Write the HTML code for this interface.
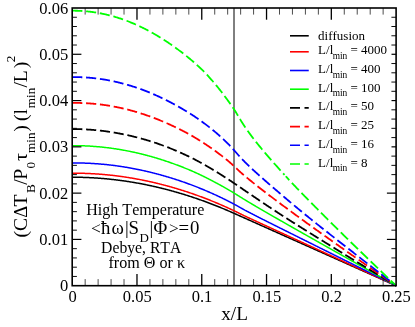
<!DOCTYPE html>
<html><head><meta charset="utf-8"><title>plot</title>
<style>
html,body{margin:0;padding:0;background:#fff;}
svg{display:block;}
text{font-family:"Liberation Serif",serif;fill:#000;font-kerning:none;font-variant-ligatures:none;}
</style></head>
<body>
<svg width="415" height="327" viewBox="0 0 415 327">
<rect width="415" height="327" fill="#fff"/>
<line x1="234.0" x2="234.0" y1="8.0" y2="285.7" stroke="#000" stroke-width="1"/>
<polyline points="72.20,177.22 72.85,177.22 73.50,177.23 74.14,177.23 74.79,177.23 75.44,177.24 76.09,177.24 76.73,177.25 77.38,177.26 78.03,177.27 78.68,177.28 79.33,177.29 79.97,177.31 80.62,177.32 81.27,177.34 81.92,177.35 82.56,177.37 83.21,177.39 83.86,177.41 84.51,177.43 85.16,177.45 85.80,177.48 86.45,177.50 87.10,177.53 87.75,177.56 88.40,177.59 89.04,177.61 89.69,177.65 90.34,177.68 90.99,177.71 91.63,177.74 92.28,177.78 92.93,177.82 93.58,177.85 94.23,177.89 94.87,177.93 95.52,177.97 96.17,178.02 96.82,178.06 97.46,178.10 98.11,178.15 98.76,178.20 99.41,178.24 100.06,178.29 100.70,178.34 101.35,178.39 102.00,178.45 102.65,178.50 103.29,178.56 103.94,178.61 104.59,178.67 105.24,178.73 105.89,178.79 106.53,178.85 107.18,178.91 107.83,178.97 108.48,179.04 109.12,179.10 109.77,179.17 110.42,179.24 111.07,179.31 111.72,179.38 112.36,179.45 113.01,179.52 113.66,179.59 114.31,179.67 114.95,179.74 115.60,179.82 116.25,179.90 116.90,179.98 117.55,180.06 118.19,180.14 118.84,180.22 119.49,180.31 120.14,180.39 120.78,180.48 121.43,180.57 122.08,180.65 122.73,180.74 123.38,180.83 124.02,180.93 124.67,181.02 125.32,181.11 125.97,181.21 126.62,181.31 127.26,181.40 127.91,181.50 128.56,181.60 129.21,181.70 129.85,181.81 130.50,181.91 131.15,182.01 131.80,182.12 132.45,182.23 133.09,182.34 133.74,182.44 134.39,182.56 135.04,182.67 135.68,182.78 136.33,182.89 136.98,183.01 137.63,183.13 138.28,183.24 138.92,183.36 139.57,183.48 140.22,183.60 140.87,183.72 141.51,183.85 142.16,183.97 142.81,184.10 143.46,184.22 144.11,184.35 144.75,184.48 145.40,184.61 146.05,184.74 146.70,184.87 147.34,185.01 147.99,185.14 148.64,185.28 149.29,185.42 149.94,185.55 150.58,185.69 151.23,185.83 151.88,185.98 152.53,186.12 153.18,186.26 153.82,186.41 154.47,186.55 155.12,186.70 155.77,186.85 156.41,187.00 157.06,187.15 157.71,187.30 158.36,187.46 159.01,187.61 159.65,187.77 160.30,187.92 160.95,188.08 161.60,188.24 162.24,188.40 162.89,188.56 163.54,188.73 164.19,188.89 164.84,189.05 165.48,189.22 166.13,189.39 166.78,189.56 167.43,189.73 168.07,189.90 168.72,190.07 169.37,190.24 170.02,190.41 170.67,190.59 171.31,190.77 171.96,190.94 172.61,191.12 173.26,191.30 173.90,191.48 174.55,191.67 175.20,191.85 175.85,192.03 176.50,192.22 177.14,192.41 177.79,192.59 178.44,192.78 179.09,192.97 179.73,193.17 180.38,193.36 181.03,193.55 181.68,193.75 182.33,193.94 182.97,194.14 183.62,194.34 184.27,194.54 184.92,194.74 185.57,194.94 186.21,195.14 186.86,195.35 187.51,195.55 188.16,195.76 188.80,195.97 189.45,196.18 190.10,196.39 190.75,196.60 191.40,196.81 192.04,197.02 192.69,197.24 193.34,197.45 193.99,197.67 194.63,197.89 195.28,198.11 195.93,198.33 196.58,198.55 197.23,198.77 197.87,199.00 198.52,199.22 199.17,199.45 199.82,199.68 200.46,199.90 201.11,200.13 201.76,200.37 202.41,200.60 203.06,200.83 203.70,201.06 204.35,201.30 205.00,201.54 205.65,201.77 206.29,202.01 206.94,202.25 207.59,202.49 208.24,202.74 208.89,202.98 209.53,203.23 210.18,203.47 210.83,203.72 211.48,203.97 212.12,204.22 212.77,204.47 213.42,204.72 214.07,204.97 214.72,205.22 215.36,205.48 216.01,205.74 216.66,205.99 217.31,206.25 217.96,206.51 218.60,206.77 219.25,207.04 219.90,207.30 220.55,207.56 221.19,207.83 221.84,208.09 222.49,208.36 223.14,208.63 223.79,208.90 224.43,209.17 225.08,209.45 225.73,209.72 226.38,209.99 227.02,210.27 227.67,210.55 228.32,210.83 228.97,211.11 229.62,211.39 230.26,211.67 230.91,211.95 231.56,212.23 232.21,212.52 232.85,212.81 233.50,213.09 234.15,213.38 234.80,213.67 235.45,213.96 236.09,214.25 236.74,214.54 237.39,214.83 238.04,215.12 238.68,215.41 239.33,215.70 239.98,215.99 240.63,216.27 241.28,216.56 241.92,216.85 242.57,217.14 243.22,217.43 243.87,217.72 244.51,218.01 245.16,218.30 245.81,218.59 246.46,218.88 247.11,219.17 247.75,219.46 248.40,219.75 249.05,220.04 249.70,220.32 250.35,220.61 250.99,220.90 251.64,221.19 252.29,221.48 252.94,221.77 253.58,222.06 254.23,222.35 254.88,222.64 255.53,222.93 256.18,223.22 256.82,223.51 257.47,223.80 258.12,224.09 258.77,224.37 259.41,224.66 260.06,224.95 260.71,225.24 261.36,225.53 262.01,225.82 262.65,226.11 263.30,226.40 263.95,226.69 264.60,226.98 265.24,227.27 265.89,227.56 266.54,227.85 267.19,228.14 267.84,228.42 268.48,228.71 269.13,229.00 269.78,229.29 270.43,229.58 271.07,229.87 271.72,230.16 272.37,230.45 273.02,230.74 273.67,231.03 274.31,231.32 274.96,231.61 275.61,231.90 276.26,232.18 276.90,232.47 277.55,232.76 278.20,233.05 278.85,233.34 279.50,233.63 280.14,233.92 280.79,234.21 281.44,234.50 282.09,234.79 282.74,235.08 283.38,235.37 284.03,235.66 284.68,235.95 285.33,236.23 285.97,236.52 286.62,236.81 287.27,237.10 287.92,237.39 288.57,237.68 289.21,237.97 289.86,238.26 290.51,238.55 291.16,238.84 291.80,239.13 292.45,239.42 293.10,239.71 293.75,240.00 294.40,240.28 295.04,240.57 295.69,240.86 296.34,241.15 296.99,241.44 297.63,241.73 298.28,242.02 298.93,242.31 299.58,242.60 300.23,242.89 300.87,243.18 301.52,243.47 302.17,243.76 302.82,244.04 303.46,244.33 304.11,244.62 304.76,244.91 305.41,245.20 306.06,245.49 306.70,245.78 307.35,246.07 308.00,246.36 308.65,246.65 309.29,246.94 309.94,247.23 310.59,247.52 311.24,247.81 311.89,248.09 312.53,248.38 313.18,248.67 313.83,248.96 314.48,249.25 315.12,249.54 315.77,249.83 316.42,250.12 317.07,250.41 317.72,250.70 318.36,250.99 319.01,251.28 319.66,251.57 320.31,251.86 320.96,252.14 321.60,252.43 322.25,252.72 322.90,253.01 323.55,253.30 324.19,253.59 324.84,253.88 325.49,254.17 326.14,254.46 326.79,254.75 327.43,255.04 328.08,255.33 328.73,255.62 329.38,255.91 330.02,256.19 330.67,256.48 331.32,256.77 331.97,257.06 332.62,257.35 333.26,257.64 333.91,257.93 334.56,258.22 335.21,258.51 335.85,258.80 336.50,259.09 337.15,259.38 337.80,259.67 338.45,259.95 339.09,260.24 339.74,260.53 340.39,260.82 341.04,261.11 341.68,261.40 342.33,261.69 342.98,261.98 343.63,262.27 344.28,262.56 344.92,262.85 345.57,263.14 346.22,263.43 346.87,263.72 347.51,264.00 348.16,264.29 348.81,264.58 349.46,264.87 350.11,265.16 350.75,265.45 351.40,265.74 352.05,266.03 352.70,266.32 353.35,266.61 353.99,266.90 354.64,267.19 355.29,267.48 355.94,267.77 356.58,268.05 357.23,268.34 357.88,268.63 358.53,268.92 359.18,269.21 359.82,269.50 360.47,269.79 361.12,270.08 361.77,270.37 362.41,270.66 363.06,270.95 363.71,271.24 364.36,271.53 365.01,271.81 365.65,272.10 366.30,272.39 366.95,272.68 367.60,272.97 368.24,273.26 368.89,273.55 369.54,273.84 370.19,274.13 370.84,274.42 371.48,274.71 372.13,275.00 372.78,275.29 373.43,275.58 374.07,275.86 374.72,276.15 375.37,276.44 376.02,276.73 376.67,277.02 377.31,277.31 377.96,277.60 378.61,277.89 379.26,278.18 379.91,278.47 380.55,278.76 381.20,279.05 381.85,279.34 382.50,279.63 383.14,279.91 383.79,280.20 384.44,280.49 385.09,280.78 385.74,281.07 386.38,281.36 387.03,281.65 387.68,281.94 388.33,282.23 388.97,282.52 389.62,282.81 390.27,283.10 390.92,283.39 391.57,283.68 392.21,283.96 392.86,284.25 393.51,284.54 394.16,284.83 394.80,285.12 395.45,285.41 396.10,285.70" fill="none" stroke="#000000" stroke-width="1.5"/>
<polyline points="72.20,173.21 72.85,173.21 73.50,173.21 74.14,173.20 74.79,173.21 75.44,173.21 76.09,173.21 76.73,173.21 77.38,173.22 78.03,173.23 78.68,173.24 79.33,173.25 79.97,173.26 80.62,173.27 81.27,173.28 81.92,173.30 82.56,173.31 83.21,173.33 83.86,173.35 84.51,173.36 85.16,173.39 85.80,173.41 86.45,173.43 87.10,173.45 87.75,173.48 88.40,173.51 89.04,173.53 89.69,173.56 90.34,173.59 90.99,173.63 91.63,173.66 92.28,173.69 92.93,173.73 93.58,173.76 94.23,173.80 94.87,173.84 95.52,173.88 96.17,173.92 96.82,173.97 97.46,174.01 98.11,174.06 98.76,174.10 99.41,174.15 100.06,174.20 100.70,174.25 101.35,174.30 102.00,174.35 102.65,174.41 103.29,174.46 103.94,174.52 104.59,174.58 105.24,174.64 105.89,174.70 106.53,174.76 107.18,174.82 107.83,174.88 108.48,174.95 109.12,175.01 109.77,175.08 110.42,175.15 111.07,175.22 111.72,175.29 112.36,175.36 113.01,175.44 113.66,175.51 114.31,175.59 114.95,175.67 115.60,175.74 116.25,175.82 116.90,175.90 117.55,175.99 118.19,176.07 118.84,176.15 119.49,176.24 120.14,176.33 120.78,176.42 121.43,176.51 122.08,176.60 122.73,176.69 123.38,176.78 124.02,176.88 124.67,176.97 125.32,177.07 125.97,177.17 126.62,177.27 127.26,177.37 127.91,177.47 128.56,177.57 129.21,177.68 129.85,177.78 130.50,177.89 131.15,178.00 131.80,178.10 132.45,178.22 133.09,178.33 133.74,178.44 134.39,178.55 135.04,178.67 135.68,178.79 136.33,178.90 136.98,179.02 137.63,179.14 138.28,179.26 138.92,179.39 139.57,179.51 140.22,179.63 140.87,179.76 141.51,179.89 142.16,180.02 142.81,180.15 143.46,180.28 144.11,180.41 144.75,180.54 145.40,180.68 146.05,180.81 146.70,180.95 147.34,181.09 147.99,181.23 148.64,181.37 149.29,181.51 149.94,181.66 150.58,181.80 151.23,181.95 151.88,182.09 152.53,182.24 153.18,182.39 153.82,182.54 154.47,182.69 155.12,182.85 155.77,183.00 156.41,183.16 157.06,183.31 157.71,183.47 158.36,183.63 159.01,183.79 159.65,183.95 160.30,184.11 160.95,184.28 161.60,184.44 162.24,184.61 162.89,184.78 163.54,184.95 164.19,185.12 164.84,185.29 165.48,185.46 166.13,185.63 166.78,185.81 167.43,185.98 168.07,186.16 168.72,186.34 169.37,186.52 170.02,186.70 170.67,186.88 171.31,187.06 171.96,187.25 172.61,187.43 173.26,187.62 173.90,187.81 174.55,188.00 175.20,188.19 175.85,188.38 176.50,188.57 177.14,188.77 177.79,188.96 178.44,189.16 179.09,189.36 179.73,189.56 180.38,189.76 181.03,189.96 181.68,190.16 182.33,190.36 182.97,190.57 183.62,190.78 184.27,190.98 184.92,191.19 185.57,191.40 186.21,191.61 186.86,191.82 187.51,192.04 188.16,192.25 188.80,192.47 189.45,192.69 190.10,192.90 190.75,193.12 191.40,193.34 192.04,193.57 192.69,193.79 193.34,194.02 193.99,194.24 194.63,194.47 195.28,194.70 195.93,194.93 196.58,195.16 197.23,195.39 197.87,195.63 198.52,195.86 199.17,196.10 199.82,196.34 200.46,196.58 201.11,196.82 201.76,197.06 202.41,197.30 203.06,197.55 203.70,197.79 204.35,198.04 205.00,198.29 205.65,198.54 206.29,198.79 206.94,199.04 207.59,199.29 208.24,199.55 208.89,199.80 209.53,200.06 210.18,200.32 210.83,200.58 211.48,200.84 212.12,201.10 212.77,201.37 213.42,201.63 214.07,201.90 214.72,202.17 215.36,202.44 216.01,202.71 216.66,202.98 217.31,203.25 217.96,203.52 218.60,203.80 219.25,204.07 219.90,204.35 220.55,204.63 221.19,204.91 221.84,205.19 222.49,205.48 223.14,205.76 223.79,206.05 224.43,206.33 225.08,206.62 225.73,206.91 226.38,207.20 227.02,207.49 227.67,207.78 228.32,208.08 228.97,208.37 229.62,208.67 230.26,208.97 230.91,209.27 231.56,209.57 232.21,209.87 232.85,210.17 233.50,210.47 234.15,210.78 234.80,211.09 235.45,211.40 236.09,211.71 236.74,212.03 237.39,212.35 238.04,212.67 238.68,212.99 239.33,213.32 239.98,213.64 240.63,213.96 241.28,214.29 241.92,214.61 242.57,214.93 243.22,215.25 243.87,215.57 244.51,215.88 245.16,216.19 245.81,216.50 246.46,216.80 247.11,217.11 247.75,217.40 248.40,217.70 249.05,218.00 249.70,218.30 250.35,218.60 250.99,218.89 251.64,219.19 252.29,219.49 252.94,219.79 253.58,220.09 254.23,220.39 254.88,220.68 255.53,220.98 256.18,221.28 256.82,221.58 257.47,221.88 258.12,222.18 258.77,222.47 259.41,222.77 260.06,223.07 260.71,223.37 261.36,223.67 262.01,223.96 262.65,224.26 263.30,224.56 263.95,224.86 264.60,225.16 265.24,225.46 265.89,225.75 266.54,226.05 267.19,226.35 267.84,226.65 268.48,226.95 269.13,227.25 269.78,227.54 270.43,227.84 271.07,228.14 271.72,228.44 272.37,228.74 273.02,229.03 273.67,229.33 274.31,229.63 274.96,229.93 275.61,230.22 276.26,230.52 276.90,230.82 277.55,231.12 278.20,231.42 278.85,231.71 279.50,232.01 280.14,232.31 280.79,232.61 281.44,232.90 282.09,233.20 282.74,233.50 283.38,233.80 284.03,234.10 284.68,234.39 285.33,234.69 285.97,234.99 286.62,235.29 287.27,235.58 287.92,235.88 288.57,236.18 289.21,236.48 289.86,236.77 290.51,237.07 291.16,237.37 291.80,237.67 292.45,237.97 293.10,238.26 293.75,238.56 294.40,238.86 295.04,239.16 295.69,239.45 296.34,239.75 296.99,240.05 297.63,240.35 298.28,240.64 298.93,240.94 299.58,241.24 300.23,241.54 300.87,241.84 301.52,242.13 302.17,242.43 302.82,242.73 303.46,243.03 304.11,243.32 304.76,243.62 305.41,243.92 306.06,244.22 306.70,244.52 307.35,244.81 308.00,245.11 308.65,245.41 309.29,245.71 309.94,246.01 310.59,246.30 311.24,246.60 311.89,246.90 312.53,247.20 313.18,247.50 313.83,247.79 314.48,248.09 315.12,248.39 315.77,248.69 316.42,248.99 317.07,249.28 317.72,249.58 318.36,249.88 319.01,250.18 319.66,250.48 320.31,250.77 320.96,251.07 321.60,251.37 322.25,251.67 322.90,251.97 323.55,252.27 324.19,252.56 324.84,252.86 325.49,253.16 326.14,253.46 326.79,253.76 327.43,254.06 328.08,254.35 328.73,254.65 329.38,254.95 330.02,255.25 330.67,255.55 331.32,255.85 331.97,256.15 332.62,256.44 333.26,256.74 333.91,257.04 334.56,257.34 335.21,257.64 335.85,257.94 336.50,258.24 337.15,258.53 337.80,258.83 338.45,259.13 339.09,259.43 339.74,259.73 340.39,260.03 341.04,260.33 341.68,260.63 342.33,260.92 342.98,261.22 343.63,261.52 344.28,261.82 344.92,262.12 345.57,262.42 346.22,262.72 346.87,263.01 347.51,263.31 348.16,263.61 348.81,263.91 349.46,264.21 350.11,264.51 350.75,264.81 351.40,265.11 352.05,265.40 352.70,265.70 353.35,266.00 353.99,266.30 354.64,266.60 355.29,266.90 355.94,267.20 356.58,267.50 357.23,267.79 357.88,268.09 358.53,268.39 359.18,268.69 359.82,268.99 360.47,269.29 361.12,269.59 361.77,269.89 362.41,270.18 363.06,270.48 363.71,270.78 364.36,271.08 365.01,271.38 365.65,271.68 366.30,271.98 366.95,272.28 367.60,272.57 368.24,272.87 368.89,273.17 369.54,273.47 370.19,273.77 370.84,274.07 371.48,274.37 372.13,274.66 372.78,274.96 373.43,275.26 374.07,275.56 374.72,275.86 375.37,276.16 376.02,276.45 376.67,276.75 377.31,277.05 377.96,277.35 378.61,277.65 379.26,277.95 379.91,278.25 380.55,278.54 381.20,278.84 381.85,279.14 382.50,279.44 383.14,279.74 383.79,280.04 384.44,280.33 385.09,280.63 385.74,280.93 386.38,281.23 387.03,281.53 387.68,281.83 388.33,282.12 388.97,282.42 389.62,282.72 390.27,283.02 390.92,283.32 391.57,283.61 392.21,283.91 392.86,284.21 393.51,284.51 394.16,284.81 394.80,285.10 395.45,285.40 396.10,285.70" fill="none" stroke="#ff0000" stroke-width="1.5"/>
<polyline points="72.20,162.96 72.85,162.95 73.50,162.95 74.14,162.95 74.79,162.95 75.44,162.95 76.09,162.96 76.73,162.96 77.38,162.97 78.03,162.97 78.68,162.98 79.33,162.99 79.97,163.00 80.62,163.01 81.27,163.03 81.92,163.04 82.56,163.06 83.21,163.08 83.86,163.10 84.51,163.12 85.16,163.14 85.80,163.16 86.45,163.19 87.10,163.21 87.75,163.24 88.40,163.27 89.04,163.30 89.69,163.33 90.34,163.36 90.99,163.40 91.63,163.43 92.28,163.47 92.93,163.51 93.58,163.55 94.23,163.59 94.87,163.63 95.52,163.68 96.17,163.72 96.82,163.77 97.46,163.81 98.11,163.86 98.76,163.91 99.41,163.97 100.06,164.02 100.70,164.07 101.35,164.13 102.00,164.19 102.65,164.24 103.29,164.30 103.94,164.37 104.59,164.43 105.24,164.49 105.89,164.56 106.53,164.62 107.18,164.69 107.83,164.76 108.48,164.83 109.12,164.90 109.77,164.98 110.42,165.05 111.07,165.13 111.72,165.21 112.36,165.28 113.01,165.36 113.66,165.45 114.31,165.53 114.95,165.61 115.60,165.70 116.25,165.78 116.90,165.87 117.55,165.96 118.19,166.05 118.84,166.15 119.49,166.24 120.14,166.33 120.78,166.43 121.43,166.53 122.08,166.63 122.73,166.73 123.38,166.83 124.02,166.93 124.67,167.04 125.32,167.14 125.97,167.25 126.62,167.36 127.26,167.47 127.91,167.58 128.56,167.69 129.21,167.80 129.85,167.92 130.50,168.03 131.15,168.15 131.80,168.27 132.45,168.39 133.09,168.51 133.74,168.64 134.39,168.76 135.04,168.89 135.68,169.01 136.33,169.14 136.98,169.27 137.63,169.40 138.28,169.53 138.92,169.67 139.57,169.80 140.22,169.94 140.87,170.08 141.51,170.22 142.16,170.36 142.81,170.50 143.46,170.64 144.11,170.79 144.75,170.93 145.40,171.08 146.05,171.23 146.70,171.38 147.34,171.53 147.99,171.68 148.64,171.83 149.29,171.99 149.94,172.14 150.58,172.30 151.23,172.46 151.88,172.62 152.53,172.78 153.18,172.95 153.82,173.11 154.47,173.28 155.12,173.44 155.77,173.61 156.41,173.78 157.06,173.95 157.71,174.12 158.36,174.30 159.01,174.47 159.65,174.65 160.30,174.83 160.95,175.00 161.60,175.18 162.24,175.37 162.89,175.55 163.54,175.73 164.19,175.92 164.84,176.11 165.48,176.29 166.13,176.48 166.78,176.67 167.43,176.87 168.07,177.06 168.72,177.25 169.37,177.45 170.02,177.65 170.67,177.85 171.31,178.05 171.96,178.25 172.61,178.45 173.26,178.65 173.90,178.86 174.55,179.07 175.20,179.27 175.85,179.48 176.50,179.69 177.14,179.91 177.79,180.12 178.44,180.33 179.09,180.55 179.73,180.77 180.38,180.98 181.03,181.20 181.68,181.43 182.33,181.65 182.97,181.87 183.62,182.10 184.27,182.32 184.92,182.55 185.57,182.78 186.21,183.01 186.86,183.24 187.51,183.47 188.16,183.71 188.80,183.94 189.45,184.18 190.10,184.42 190.75,184.66 191.40,184.90 192.04,185.15 192.69,185.39 193.34,185.64 193.99,185.88 194.63,186.13 195.28,186.39 195.93,186.64 196.58,186.89 197.23,187.15 197.87,187.41 198.52,187.67 199.17,187.93 199.82,188.19 200.46,188.45 201.11,188.72 201.76,188.98 202.41,189.25 203.06,189.52 203.70,189.79 204.35,190.06 205.00,190.33 205.65,190.61 206.29,190.89 206.94,191.16 207.59,191.44 208.24,191.72 208.89,192.01 209.53,192.29 210.18,192.57 210.83,192.86 211.48,193.15 212.12,193.43 212.77,193.72 213.42,194.02 214.07,194.31 214.72,194.60 215.36,194.90 216.01,195.19 216.66,195.49 217.31,195.79 217.96,196.10 218.60,196.40 219.25,196.71 219.90,197.01 220.55,197.32 221.19,197.63 221.84,197.95 222.49,198.26 223.14,198.58 223.79,198.89 224.43,199.21 225.08,199.53 225.73,199.86 226.38,200.18 227.02,200.51 227.67,200.84 228.32,201.16 228.97,201.49 229.62,201.83 230.26,202.16 230.91,202.50 231.56,202.83 232.21,203.17 232.85,203.51 233.50,203.85 234.15,204.20 234.80,204.54 235.45,204.89 236.09,205.25 236.74,205.60 237.39,205.96 238.04,206.32 238.68,206.69 239.33,207.05 239.98,207.41 240.63,207.78 241.28,208.14 241.92,208.50 242.57,208.86 243.22,209.22 243.87,209.58 244.51,209.93 245.16,210.29 245.81,210.63 246.46,210.98 247.11,211.32 247.75,211.65 248.40,211.99 249.05,212.33 249.70,212.66 250.35,213.00 250.99,213.33 251.64,213.67 252.29,214.00 252.94,214.34 253.58,214.67 254.23,215.00 254.88,215.34 255.53,215.67 256.18,216.00 256.82,216.33 257.47,216.66 258.12,216.99 258.77,217.32 259.41,217.65 260.06,217.98 260.71,218.31 261.36,218.64 262.01,218.97 262.65,219.30 263.30,219.62 263.95,219.95 264.60,220.27 265.24,220.60 265.89,220.93 266.54,221.25 267.19,221.57 267.84,221.90 268.48,222.22 269.13,222.55 269.78,222.87 270.43,223.20 271.07,223.52 271.72,223.84 272.37,224.17 273.02,224.49 273.67,224.82 274.31,225.14 274.96,225.46 275.61,225.79 276.26,226.11 276.90,226.44 277.55,226.76 278.20,227.08 278.85,227.41 279.50,227.73 280.14,228.05 280.79,228.38 281.44,228.70 282.09,229.02 282.74,229.35 283.38,229.67 284.03,229.99 284.68,230.32 285.33,230.64 285.97,230.96 286.62,231.28 287.27,231.61 287.92,231.93 288.57,232.25 289.21,232.58 289.86,232.90 290.51,233.22 291.16,233.55 291.80,233.87 292.45,234.19 293.10,234.51 293.75,234.84 294.40,235.16 295.04,235.48 295.69,235.80 296.34,236.13 296.99,236.45 297.63,236.77 298.28,237.09 298.93,237.42 299.58,237.74 300.23,238.06 300.87,238.38 301.52,238.71 302.17,239.03 302.82,239.35 303.46,239.67 304.11,240.00 304.76,240.32 305.41,240.64 306.06,240.96 306.70,241.29 307.35,241.61 308.00,241.93 308.65,242.25 309.29,242.58 309.94,242.90 310.59,243.22 311.24,243.54 311.89,243.87 312.53,244.19 313.18,244.51 313.83,244.83 314.48,245.15 315.12,245.48 315.77,245.80 316.42,246.12 317.07,246.44 317.72,246.77 318.36,247.09 319.01,247.41 319.66,247.73 320.31,248.05 320.96,248.38 321.60,248.70 322.25,249.02 322.90,249.34 323.55,249.67 324.19,249.99 324.84,250.31 325.49,250.63 326.14,250.96 326.79,251.28 327.43,251.60 328.08,251.92 328.73,252.24 329.38,252.57 330.02,252.89 330.67,253.21 331.32,253.53 331.97,253.86 332.62,254.18 333.26,254.50 333.91,254.82 334.56,255.14 335.21,255.47 335.85,255.79 336.50,256.11 337.15,256.43 337.80,256.75 338.45,257.08 339.09,257.40 339.74,257.72 340.39,258.04 341.04,258.37 341.68,258.69 342.33,259.01 342.98,259.33 343.63,259.65 344.28,259.98 344.92,260.30 345.57,260.62 346.22,260.94 346.87,261.26 347.51,261.59 348.16,261.91 348.81,262.23 349.46,262.55 350.11,262.87 350.75,263.20 351.40,263.52 352.05,263.84 352.70,264.16 353.35,264.48 353.99,264.80 354.64,265.13 355.29,265.45 355.94,265.77 356.58,266.09 357.23,266.41 357.88,266.74 358.53,267.06 359.18,267.38 359.82,267.70 360.47,268.02 361.12,268.34 361.77,268.67 362.41,268.99 363.06,269.31 363.71,269.63 364.36,269.95 365.01,270.27 365.65,270.60 366.30,270.92 366.95,271.24 367.60,271.56 368.24,271.88 368.89,272.20 369.54,272.53 370.19,272.85 370.84,273.17 371.48,273.49 372.13,273.81 372.78,274.13 373.43,274.45 374.07,274.78 374.72,275.10 375.37,275.42 376.02,275.74 376.67,276.06 377.31,276.38 377.96,276.70 378.61,277.03 379.26,277.35 379.91,277.67 380.55,277.99 381.20,278.31 381.85,278.63 382.50,278.95 383.14,279.28 383.79,279.60 384.44,279.92 385.09,280.24 385.74,280.56 386.38,280.88 387.03,281.20 387.68,281.52 388.33,281.85 388.97,282.17 389.62,282.49 390.27,282.81 390.92,283.13 391.57,283.45 392.21,283.77 392.86,284.09 393.51,284.42 394.16,284.74 394.80,285.06 395.45,285.38 396.10,285.70" fill="none" stroke="#0000ff" stroke-width="1.5"/>
<polyline points="72.20,145.66 72.85,145.65 73.50,145.65 74.14,145.65 74.79,145.66 75.44,145.66 76.09,145.67 76.73,145.67 77.38,145.68 78.03,145.69 78.68,145.70 79.33,145.71 79.97,145.73 80.62,145.74 81.27,145.76 81.92,145.78 82.56,145.80 83.21,145.82 83.86,145.85 84.51,145.87 85.16,145.90 85.80,145.93 86.45,145.96 87.10,145.99 87.75,146.02 88.40,146.05 89.04,146.09 89.69,146.12 90.34,146.16 90.99,146.20 91.63,146.24 92.28,146.29 92.93,146.33 93.58,146.38 94.23,146.43 94.87,146.47 95.52,146.53 96.17,146.58 96.82,146.63 97.46,146.69 98.11,146.74 98.76,146.80 99.41,146.86 100.06,146.92 100.70,146.98 101.35,147.05 102.00,147.11 102.65,147.18 103.29,147.25 103.94,147.32 104.59,147.39 105.24,147.47 105.89,147.54 106.53,147.62 107.18,147.70 107.83,147.77 108.48,147.86 109.12,147.94 109.77,148.02 110.42,148.11 111.07,148.19 111.72,148.28 112.36,148.37 113.01,148.47 113.66,148.56 114.31,148.65 114.95,148.75 115.60,148.85 116.25,148.95 116.90,149.05 117.55,149.15 118.19,149.25 118.84,149.36 119.49,149.47 120.14,149.57 120.78,149.68 121.43,149.79 122.08,149.91 122.73,150.02 123.38,150.14 124.02,150.26 124.67,150.37 125.32,150.50 125.97,150.62 126.62,150.74 127.26,150.87 127.91,150.99 128.56,151.12 129.21,151.25 129.85,151.38 130.50,151.52 131.15,151.65 131.80,151.79 132.45,151.92 133.09,152.06 133.74,152.20 134.39,152.34 135.04,152.49 135.68,152.63 136.33,152.78 136.98,152.93 137.63,153.08 138.28,153.23 138.92,153.38 139.57,153.54 140.22,153.69 140.87,153.85 141.51,154.01 142.16,154.17 142.81,154.33 143.46,154.49 144.11,154.66 144.75,154.82 145.40,154.99 146.05,155.16 146.70,155.33 147.34,155.51 147.99,155.68 148.64,155.86 149.29,156.03 149.94,156.21 150.58,156.39 151.23,156.57 151.88,156.76 152.53,156.94 153.18,157.13 153.82,157.32 154.47,157.51 155.12,157.70 155.77,157.89 156.41,158.08 157.06,158.28 157.71,158.47 158.36,158.67 159.01,158.87 159.65,159.07 160.30,159.28 160.95,159.48 161.60,159.69 162.24,159.89 162.89,160.10 163.54,160.31 164.19,160.52 164.84,160.74 165.48,160.95 166.13,161.17 166.78,161.39 167.43,161.60 168.07,161.83 168.72,162.05 169.37,162.27 170.02,162.50 170.67,162.72 171.31,162.95 171.96,163.18 172.61,163.41 173.26,163.64 173.90,163.88 174.55,164.11 175.20,164.35 175.85,164.59 176.50,164.83 177.14,165.07 177.79,165.31 178.44,165.56 179.09,165.81 179.73,166.05 180.38,166.30 181.03,166.55 181.68,166.80 182.33,167.06 182.97,167.31 183.62,167.57 184.27,167.83 184.92,168.09 185.57,168.35 186.21,168.61 186.86,168.88 187.51,169.14 188.16,169.41 188.80,169.68 189.45,169.95 190.10,170.22 190.75,170.50 191.40,170.78 192.04,171.06 192.69,171.34 193.34,171.63 193.99,171.92 194.63,172.21 195.28,172.50 195.93,172.80 196.58,173.10 197.23,173.39 197.87,173.70 198.52,174.00 199.17,174.30 199.82,174.61 200.46,174.91 201.11,175.22 201.76,175.53 202.41,175.84 203.06,176.16 203.70,176.47 204.35,176.79 205.00,177.11 205.65,177.44 206.29,177.76 206.94,178.09 207.59,178.42 208.24,178.75 208.89,179.08 209.53,179.41 210.18,179.75 210.83,180.08 211.48,180.42 212.12,180.76 212.77,181.10 213.42,181.44 214.07,181.79 214.72,182.13 215.36,182.47 216.01,182.82 216.66,183.16 217.31,183.51 217.96,183.86 218.60,184.21 219.25,184.56 219.90,184.92 220.55,185.27 221.19,185.63 221.84,185.98 222.49,186.34 223.14,186.70 223.79,187.07 224.43,187.43 225.08,187.80 225.73,188.16 226.38,188.53 227.02,188.91 227.67,189.28 228.32,189.65 228.97,190.03 229.62,190.41 230.26,190.79 230.91,191.18 231.56,191.56 232.21,191.95 232.85,192.34 233.50,192.74 234.15,193.13 234.80,193.53 235.45,193.94 236.09,194.34 236.74,194.75 237.39,195.16 238.04,195.57 238.68,195.97 239.33,196.38 239.98,196.78 240.63,197.18 241.28,197.58 241.92,197.98 242.57,198.37 243.22,198.77 243.87,199.17 244.51,199.56 245.16,199.95 245.81,200.35 246.46,200.74 247.11,201.13 247.75,201.52 248.40,201.91 249.05,202.30 249.70,202.69 250.35,203.08 250.99,203.47 251.64,203.85 252.29,204.24 252.94,204.62 253.58,205.01 254.23,205.39 254.88,205.77 255.53,206.15 256.18,206.53 256.82,206.91 257.47,207.30 258.12,207.68 258.77,208.05 259.41,208.43 260.06,208.81 260.71,209.19 261.36,209.57 262.01,209.95 262.65,210.32 263.30,210.70 263.95,211.07 264.60,211.45 265.24,211.82 265.89,212.20 266.54,212.57 267.19,212.95 267.84,213.32 268.48,213.69 269.13,214.06 269.78,214.43 270.43,214.81 271.07,215.18 271.72,215.55 272.37,215.92 273.02,216.29 273.67,216.66 274.31,217.03 274.96,217.40 275.61,217.77 276.26,218.14 276.90,218.51 277.55,218.88 278.20,219.25 278.85,219.62 279.50,219.99 280.14,220.36 280.79,220.73 281.44,221.10 282.09,221.47 282.74,221.84 283.38,222.21 284.03,222.58 284.68,222.95 285.33,223.31 285.97,223.68 286.62,224.05 287.27,224.42 287.92,224.79 288.57,225.16 289.21,225.53 289.86,225.90 290.51,226.27 291.16,226.63 291.80,227.00 292.45,227.37 293.10,227.74 293.75,228.11 294.40,228.48 295.04,228.84 295.69,229.21 296.34,229.58 296.99,229.95 297.63,230.31 298.28,230.68 298.93,231.05 299.58,231.42 300.23,231.78 300.87,232.15 301.52,232.52 302.17,232.88 302.82,233.25 303.46,233.62 304.11,233.98 304.76,234.35 305.41,234.71 306.06,235.08 306.70,235.44 307.35,235.81 308.00,236.18 308.65,236.54 309.29,236.91 309.94,237.27 310.59,237.64 311.24,238.00 311.89,238.37 312.53,238.73 313.18,239.10 313.83,239.46 314.48,239.83 315.12,240.19 315.77,240.56 316.42,240.92 317.07,241.29 317.72,241.65 318.36,242.02 319.01,242.38 319.66,242.75 320.31,243.11 320.96,243.48 321.60,243.84 322.25,244.20 322.90,244.57 323.55,244.93 324.19,245.30 324.84,245.66 325.49,246.03 326.14,246.39 326.79,246.76 327.43,247.12 328.08,247.49 328.73,247.85 329.38,248.22 330.02,248.58 330.67,248.95 331.32,249.31 331.97,249.67 332.62,250.04 333.26,250.40 333.91,250.77 334.56,251.13 335.21,251.50 335.85,251.86 336.50,252.23 337.15,252.59 337.80,252.96 338.45,253.32 339.09,253.68 339.74,254.05 340.39,254.41 341.04,254.78 341.68,255.14 342.33,255.51 342.98,255.87 343.63,256.24 344.28,256.60 344.92,256.96 345.57,257.33 346.22,257.69 346.87,258.06 347.51,258.42 348.16,258.79 348.81,259.15 349.46,259.52 350.11,259.88 350.75,260.24 351.40,260.61 352.05,260.97 352.70,261.34 353.35,261.70 353.99,262.06 354.64,262.43 355.29,262.79 355.94,263.16 356.58,263.52 357.23,263.89 357.88,264.25 358.53,264.61 359.18,264.98 359.82,265.34 360.47,265.71 361.12,266.07 361.77,266.43 362.41,266.80 363.06,267.16 363.71,267.53 364.36,267.89 365.01,268.25 365.65,268.62 366.30,268.98 366.95,269.34 367.60,269.71 368.24,270.07 368.89,270.44 369.54,270.80 370.19,271.16 370.84,271.53 371.48,271.89 372.13,272.25 372.78,272.62 373.43,272.98 374.07,273.35 374.72,273.71 375.37,274.07 376.02,274.44 376.67,274.80 377.31,275.16 377.96,275.53 378.61,275.89 379.26,276.25 379.91,276.62 380.55,276.98 381.20,277.35 381.85,277.71 382.50,278.07 383.14,278.44 383.79,278.80 384.44,279.16 385.09,279.53 385.74,279.89 386.38,280.25 387.03,280.62 387.68,280.98 388.33,281.34 388.97,281.71 389.62,282.07 390.27,282.43 390.92,282.80 391.57,283.16 392.21,283.52 392.86,283.88 393.51,284.25 394.16,284.61 394.80,284.97 395.45,285.34 396.10,285.70" fill="none" stroke="#00ff00" stroke-width="1.5"/>
<polyline points="72.20,129.06 72.85,129.06 73.50,129.06 74.14,129.07 74.79,129.07 75.44,129.08 76.09,129.09 76.73,129.10 77.38,129.11 78.03,129.13 78.68,129.14 79.33,129.16 79.97,129.18 80.62,129.20 81.27,129.22 81.92,129.25 82.56,129.27 83.21,129.30 83.86,129.33 84.51,129.36 85.16,129.39 85.80,129.43 86.45,129.46 87.10,129.50 87.75,129.54 88.40,129.58 89.04,129.62 89.69,129.67 90.34,129.71 90.99,129.76 91.63,129.81 92.28,129.86 92.93,129.92 93.58,129.97 94.23,130.03 94.87,130.08 95.52,130.14 96.17,130.20 96.82,130.27 97.46,130.33 98.11,130.40 98.76,130.46 99.41,130.53 100.06,130.60 100.70,130.68 101.35,130.75 102.00,130.83 102.65,130.91 103.29,130.98 103.94,131.07 104.59,131.15 105.24,131.23 105.89,131.32 106.53,131.41 107.18,131.50 107.83,131.59 108.48,131.68 109.12,131.77 109.77,131.87 110.42,131.97 111.07,132.07 111.72,132.17 112.36,132.27 113.01,132.38 113.66,132.48 114.31,132.59 114.95,132.70 115.60,132.81 116.25,132.92 116.90,133.04 117.55,133.15 118.19,133.27 118.84,133.39 119.49,133.51 120.14,133.63 120.78,133.76 121.43,133.89 122.08,134.01 122.73,134.14 123.38,134.27 124.02,134.41 124.67,134.54 125.32,134.68 125.97,134.82 126.62,134.95 127.26,135.10 127.91,135.24 128.56,135.38 129.21,135.53 129.85,135.68 130.50,135.83 131.15,135.98 131.80,136.13 132.45,136.29 133.09,136.44 133.74,136.60 134.39,136.76 135.04,136.92 135.68,137.08 136.33,137.25 136.98,137.41 137.63,137.58 138.28,137.75 138.92,137.92 139.57,138.10 140.22,138.27 140.87,138.45 141.51,138.62 142.16,138.80 142.81,138.99 143.46,139.17 144.11,139.35 144.75,139.54 145.40,139.73 146.05,139.92 146.70,140.11 147.34,140.30 147.99,140.50 148.64,140.69 149.29,140.89 149.94,141.09 150.58,141.29 151.23,141.49 151.88,141.70 152.53,141.91 153.18,142.12 153.82,142.33 154.47,142.54 155.12,142.76 155.77,142.97 156.41,143.19 157.06,143.41 157.71,143.64 158.36,143.86 159.01,144.09 159.65,144.31 160.30,144.54 160.95,144.78 161.60,145.01 162.24,145.25 162.89,145.48 163.54,145.72 164.19,145.97 164.84,146.21 165.48,146.45 166.13,146.70 166.78,146.95 167.43,147.20 168.07,147.45 168.72,147.71 169.37,147.96 170.02,148.22 170.67,148.48 171.31,148.74 171.96,149.01 172.61,149.27 173.26,149.54 173.90,149.81 174.55,150.08 175.20,150.35 175.85,150.63 176.50,150.90 177.14,151.18 177.79,151.46 178.44,151.74 179.09,152.03 179.73,152.31 180.38,152.60 181.03,152.89 181.68,153.18 182.33,153.47 182.97,153.76 183.62,154.06 184.27,154.36 184.92,154.65 185.57,154.96 186.21,155.26 186.86,155.56 187.51,155.87 188.16,156.18 188.80,156.49 189.45,156.80 190.10,157.11 190.75,157.43 191.40,157.76 192.04,158.08 192.69,158.41 193.34,158.74 193.99,159.07 194.63,159.41 195.28,159.75 195.93,160.09 196.58,160.43 197.23,160.78 197.87,161.13 198.52,161.48 199.17,161.83 199.82,162.18 200.46,162.53 201.11,162.89 201.76,163.24 202.41,163.60 203.06,163.96 203.70,164.33 204.35,164.69 205.00,165.06 205.65,165.43 206.29,165.80 206.94,166.17 207.59,166.54 208.24,166.92 208.89,167.30 209.53,167.68 210.18,168.06 210.83,168.45 211.48,168.83 212.12,169.22 212.77,169.61 213.42,170.00 214.07,170.39 214.72,170.78 215.36,171.18 216.01,171.57 216.66,171.97 217.31,172.37 217.96,172.77 218.60,173.18 219.25,173.58 219.90,173.99 220.55,174.40 221.19,174.81 221.84,175.22 222.49,175.63 223.14,176.04 223.79,176.46 224.43,176.88 225.08,177.30 225.73,177.72 226.38,178.14 227.02,178.56 227.67,178.98 228.32,179.41 228.97,179.83 229.62,180.26 230.26,180.69 230.91,181.12 231.56,181.56 232.21,181.99 232.85,182.42 233.50,182.86 234.15,183.30 234.80,183.74 235.45,184.17 236.09,184.61 236.74,185.05 237.39,185.48 238.04,185.92 238.68,186.36 239.33,186.80 239.98,187.23 240.63,187.67 241.28,188.11 241.92,188.55 242.57,188.99 243.22,189.44 243.87,189.88 244.51,190.32 245.16,190.76 245.81,191.21 246.46,191.65 247.11,192.09 247.75,192.53 248.40,192.97 249.05,193.41 249.70,193.85 250.35,194.29 250.99,194.72 251.64,195.16 252.29,195.60 252.94,196.04 253.58,196.48 254.23,196.92 254.88,197.36 255.53,197.79 256.18,198.23 256.82,198.67 257.47,199.11 258.12,199.55 258.77,199.99 259.41,200.43 260.06,200.87 260.71,201.31 261.36,201.75 262.01,202.18 262.65,202.62 263.30,203.06 263.95,203.49 264.60,203.93 265.24,204.36 265.89,204.79 266.54,205.22 267.19,205.66 267.84,206.09 268.48,206.52 269.13,206.94 269.78,207.37 270.43,207.80 271.07,208.23 271.72,208.66 272.37,209.08 273.02,209.51 273.67,209.94 274.31,210.36 274.96,210.79 275.61,211.21 276.26,211.63 276.90,212.06 277.55,212.48 278.20,212.90 278.85,213.32 279.50,213.74 280.14,214.16 280.79,214.58 281.44,215.00 282.09,215.42 282.74,215.84 283.38,216.26 284.03,216.68 284.68,217.09 285.33,217.51 285.97,217.93 286.62,218.34 287.27,218.76 287.92,219.17 288.57,219.59 289.21,220.00 289.86,220.42 290.51,220.83 291.16,221.24 291.80,221.65 292.45,222.06 293.10,222.47 293.75,222.88 294.40,223.29 295.04,223.69 295.69,224.10 296.34,224.51 296.99,224.92 297.63,225.32 298.28,225.73 298.93,226.13 299.58,226.54 300.23,226.94 300.87,227.35 301.52,227.75 302.17,228.16 302.82,228.56 303.46,228.97 304.11,229.37 304.76,229.77 305.41,230.18 306.06,230.58 306.70,230.98 307.35,231.39 308.00,231.79 308.65,232.19 309.29,232.59 309.94,233.00 310.59,233.40 311.24,233.80 311.89,234.20 312.53,234.60 313.18,235.00 313.83,235.40 314.48,235.80 315.12,236.21 315.77,236.61 316.42,237.01 317.07,237.41 317.72,237.81 318.36,238.21 319.01,238.62 319.66,239.02 320.31,239.42 320.96,239.82 321.60,240.22 322.25,240.63 322.90,241.03 323.55,241.43 324.19,241.83 324.84,242.23 325.49,242.64 326.14,243.04 326.79,243.44 327.43,243.84 328.08,244.24 328.73,244.64 329.38,245.04 330.02,245.44 330.67,245.84 331.32,246.24 331.97,246.64 332.62,247.04 333.26,247.44 333.91,247.84 334.56,248.24 335.21,248.64 335.85,249.04 336.50,249.44 337.15,249.84 337.80,250.24 338.45,250.63 339.09,251.03 339.74,251.43 340.39,251.83 341.04,252.23 341.68,252.62 342.33,253.02 342.98,253.42 343.63,253.82 344.28,254.22 344.92,254.61 345.57,255.01 346.22,255.41 346.87,255.80 347.51,256.20 348.16,256.60 348.81,256.99 349.46,257.39 350.11,257.78 350.75,258.18 351.40,258.58 352.05,258.97 352.70,259.37 353.35,259.76 353.99,260.16 354.64,260.55 355.29,260.95 355.94,261.34 356.58,261.74 357.23,262.13 357.88,262.52 358.53,262.92 359.18,263.31 359.82,263.71 360.47,264.10 361.12,264.49 361.77,264.89 362.41,265.28 363.06,265.68 363.71,266.07 364.36,266.46 365.01,266.86 365.65,267.25 366.30,267.64 366.95,268.04 367.60,268.43 368.24,268.82 368.89,269.22 369.54,269.61 370.19,270.00 370.84,270.40 371.48,270.79 372.13,271.18 372.78,271.58 373.43,271.97 374.07,272.36 374.72,272.75 375.37,273.15 376.02,273.54 376.67,273.93 377.31,274.33 377.96,274.72 378.61,275.11 379.26,275.50 379.91,275.90 380.55,276.29 381.20,276.68 381.85,277.07 382.50,277.47 383.14,277.86 383.79,278.25 384.44,278.64 385.09,279.04 385.74,279.43 386.38,279.82 387.03,280.21 387.68,280.60 388.33,281.00 388.97,281.39 389.62,281.78 390.27,282.17 390.92,282.56 391.57,282.96 392.21,283.35 392.86,283.74 393.51,284.13 394.16,284.52 394.80,284.92 395.45,285.31 396.10,285.70" fill="none" stroke="#000000" stroke-dasharray="10.15 3.75" stroke-width="1.8"/>
<polyline points="72.20,102.92 72.85,102.91 73.50,102.91 74.14,102.90 74.79,102.90 75.44,102.90 76.09,102.91 76.73,102.91 77.38,102.92 78.03,102.93 78.68,102.94 79.33,102.95 79.97,102.97 80.62,102.99 81.27,103.01 81.92,103.03 82.56,103.05 83.21,103.07 83.86,103.10 84.51,103.13 85.16,103.16 85.80,103.20 86.45,103.23 87.10,103.27 87.75,103.31 88.40,103.35 89.04,103.39 89.69,103.44 90.34,103.48 90.99,103.53 91.63,103.58 92.28,103.64 92.93,103.69 93.58,103.75 94.23,103.81 94.87,103.87 95.52,103.93 96.17,104.00 96.82,104.06 97.46,104.13 98.11,104.20 98.76,104.28 99.41,104.35 100.06,104.43 100.70,104.51 101.35,104.59 102.00,104.67 102.65,104.76 103.29,104.85 103.94,104.94 104.59,105.03 105.24,105.12 105.89,105.21 106.53,105.31 107.18,105.41 107.83,105.51 108.48,105.62 109.12,105.72 109.77,105.83 110.42,105.94 111.07,106.05 111.72,106.16 112.36,106.28 113.01,106.40 113.66,106.52 114.31,106.64 114.95,106.76 115.60,106.89 116.25,107.01 116.90,107.14 117.55,107.28 118.19,107.41 118.84,107.54 119.49,107.68 120.14,107.82 120.78,107.96 121.43,108.11 122.08,108.25 122.73,108.40 123.38,108.55 124.02,108.70 124.67,108.86 125.32,109.01 125.97,109.17 126.62,109.33 127.26,109.49 127.91,109.66 128.56,109.82 129.21,109.99 129.85,110.16 130.50,110.33 131.15,110.51 131.80,110.69 132.45,110.86 133.09,111.04 133.74,111.23 134.39,111.41 135.04,111.60 135.68,111.79 136.33,111.98 136.98,112.17 137.63,112.36 138.28,112.56 138.92,112.76 139.57,112.96 140.22,113.16 140.87,113.37 141.51,113.58 142.16,113.79 142.81,114.00 143.46,114.21 144.11,114.43 144.75,114.64 145.40,114.86 146.05,115.08 146.70,115.31 147.34,115.53 147.99,115.76 148.64,115.99 149.29,116.22 149.94,116.45 150.58,116.69 151.23,116.93 151.88,117.17 152.53,117.41 153.18,117.65 153.82,117.90 154.47,118.14 155.12,118.39 155.77,118.65 156.41,118.90 157.06,119.15 157.71,119.41 158.36,119.67 159.01,119.93 159.65,120.19 160.30,120.46 160.95,120.73 161.60,120.99 162.24,121.27 162.89,121.54 163.54,121.81 164.19,122.09 164.84,122.37 165.48,122.65 166.13,122.93 166.78,123.22 167.43,123.50 168.07,123.79 168.72,124.08 169.37,124.37 170.02,124.67 170.67,124.96 171.31,125.26 171.96,125.56 172.61,125.86 173.26,126.17 173.90,126.47 174.55,126.78 175.20,127.09 175.85,127.40 176.50,127.72 177.14,128.03 177.79,128.35 178.44,128.67 179.09,128.99 179.73,129.32 180.38,129.64 181.03,129.97 181.68,130.30 182.33,130.63 182.97,130.96 183.62,131.30 184.27,131.64 184.92,131.98 185.57,132.32 186.21,132.66 186.86,133.01 187.51,133.35 188.16,133.70 188.80,134.05 189.45,134.41 190.10,134.77 190.75,135.13 191.40,135.50 192.04,135.87 192.69,136.25 193.34,136.63 193.99,137.01 194.63,137.40 195.28,137.79 195.93,138.18 196.58,138.58 197.23,138.98 197.87,139.38 198.52,139.78 199.17,140.19 199.82,140.60 200.46,141.00 201.11,141.41 201.76,141.83 202.41,142.24 203.06,142.65 203.70,143.07 204.35,143.49 205.00,143.92 205.65,144.34 206.29,144.77 206.94,145.20 207.59,145.63 208.24,146.07 208.89,146.51 209.53,146.95 210.18,147.40 210.83,147.84 211.48,148.29 212.12,148.74 212.77,149.20 213.42,149.66 214.07,150.12 214.72,150.58 215.36,151.05 216.01,151.52 216.66,151.99 217.31,152.47 217.96,152.95 218.60,153.43 219.25,153.92 219.90,154.41 220.55,154.91 221.19,155.41 221.84,155.91 222.49,156.41 223.14,156.92 223.79,157.43 224.43,157.95 225.08,158.46 225.73,158.99 226.38,159.51 227.02,160.04 227.67,160.57 228.32,161.11 228.97,161.65 229.62,162.21 230.26,162.77 230.91,163.33 231.56,163.90 232.21,164.48 232.85,165.06 233.50,165.64 234.15,166.23 234.80,166.83 235.45,167.44 236.09,168.05 236.74,168.68 237.39,169.30 238.04,169.92 238.68,170.54 239.33,171.15 239.98,171.75 240.63,172.33 241.28,172.90 241.92,173.47 242.57,174.03 243.22,174.58 243.87,175.14 244.51,175.68 245.16,176.23 245.81,176.77 246.46,177.31 247.11,177.85 247.75,178.39 248.40,178.92 249.05,179.45 249.70,179.98 250.35,180.51 250.99,181.03 251.64,181.56 252.29,182.08 252.94,182.60 253.58,183.11 254.23,183.63 254.88,184.14 255.53,184.65 256.18,185.16 256.82,185.67 257.47,186.18 258.12,186.68 258.77,187.19 259.41,187.69 260.06,188.20 260.71,188.70 261.36,189.20 262.01,189.70 262.65,190.20 263.30,190.70 263.95,191.20 264.60,191.70 265.24,192.20 265.89,192.69 266.54,193.19 267.19,193.69 267.84,194.18 268.48,194.68 269.13,195.18 269.78,195.67 270.43,196.17 271.07,196.66 271.72,197.15 272.37,197.65 273.02,198.14 273.67,198.63 274.31,199.12 274.96,199.61 275.61,200.10 276.26,200.59 276.90,201.07 277.55,201.56 278.20,202.05 278.85,202.53 279.50,203.01 280.14,203.50 280.79,203.98 281.44,204.46 282.09,204.94 282.74,205.42 283.38,205.90 284.03,206.38 284.68,206.86 285.33,207.34 285.97,207.82 286.62,208.29 287.27,208.77 287.92,209.25 288.57,209.72 289.21,210.20 289.86,210.67 290.51,211.15 291.16,211.62 291.80,212.10 292.45,212.57 293.10,213.05 293.75,213.52 294.40,213.99 295.04,214.47 295.69,214.94 296.34,215.41 296.99,215.89 297.63,216.36 298.28,216.83 298.93,217.30 299.58,217.77 300.23,218.24 300.87,218.71 301.52,219.18 302.17,219.65 302.82,220.12 303.46,220.59 304.11,221.06 304.76,221.53 305.41,222.00 306.06,222.46 306.70,222.93 307.35,223.40 308.00,223.87 308.65,224.33 309.29,224.80 309.94,225.27 310.59,225.73 311.24,226.20 311.89,226.66 312.53,227.13 313.18,227.59 313.83,228.06 314.48,228.52 315.12,228.99 315.77,229.45 316.42,229.92 317.07,230.38 317.72,230.84 318.36,231.31 319.01,231.77 319.66,232.23 320.31,232.69 320.96,233.15 321.60,233.62 322.25,234.08 322.90,234.54 323.55,235.00 324.19,235.46 324.84,235.92 325.49,236.38 326.14,236.84 326.79,237.30 327.43,237.76 328.08,238.22 328.73,238.68 329.38,239.14 330.02,239.60 330.67,240.06 331.32,240.52 331.97,240.97 332.62,241.43 333.26,241.89 333.91,242.35 334.56,242.81 335.21,243.27 335.85,243.73 336.50,244.19 337.15,244.65 337.80,245.10 338.45,245.56 339.09,246.02 339.74,246.48 340.39,246.94 341.04,247.39 341.68,247.85 342.33,248.31 342.98,248.76 343.63,249.22 344.28,249.68 344.92,250.13 345.57,250.59 346.22,251.05 346.87,251.50 347.51,251.96 348.16,252.41 348.81,252.87 349.46,253.32 350.11,253.78 350.75,254.23 351.40,254.69 352.05,255.14 352.70,255.59 353.35,256.05 353.99,256.50 354.64,256.95 355.29,257.41 355.94,257.86 356.58,258.31 357.23,258.76 357.88,259.21 358.53,259.67 359.18,260.12 359.82,260.57 360.47,261.02 361.12,261.47 361.77,261.92 362.41,262.37 363.06,262.82 363.71,263.28 364.36,263.73 365.01,264.18 365.65,264.63 366.30,265.08 366.95,265.53 367.60,265.98 368.24,266.43 368.89,266.88 369.54,267.33 370.19,267.78 370.84,268.23 371.48,268.68 372.13,269.13 372.78,269.58 373.43,270.03 374.07,270.47 374.72,270.92 375.37,271.37 376.02,271.82 376.67,272.27 377.31,272.72 377.96,273.17 378.61,273.62 379.26,274.06 379.91,274.51 380.55,274.96 381.20,275.41 381.85,275.86 382.50,276.31 383.14,276.75 383.79,277.20 384.44,277.65 385.09,278.10 385.74,278.54 386.38,278.99 387.03,279.44 387.68,279.89 388.33,280.33 388.97,280.78 389.62,281.23 390.27,281.68 390.92,282.12 391.57,282.57 392.21,283.02 392.86,283.47 393.51,283.91 394.16,284.36 394.80,284.81 395.45,285.25 396.10,285.70" fill="none" stroke="#ff0000" stroke-dasharray="10.15 3.75" stroke-width="1.8"/>
<polyline points="72.20,77.10 72.85,77.09 73.50,77.09 74.14,77.09 74.79,77.09 75.44,77.10 76.09,77.10 76.73,77.11 77.38,77.12 78.03,77.14 78.68,77.15 79.33,77.17 79.97,77.19 80.62,77.21 81.27,77.24 81.92,77.26 82.56,77.29 83.21,77.32 83.86,77.36 84.51,77.39 85.16,77.43 85.80,77.47 86.45,77.51 87.10,77.56 87.75,77.60 88.40,77.65 89.04,77.70 89.69,77.76 90.34,77.81 90.99,77.87 91.63,77.93 92.28,77.99 92.93,78.06 93.58,78.13 94.23,78.20 94.87,78.27 95.52,78.34 96.17,78.42 96.82,78.50 97.46,78.58 98.11,78.66 98.76,78.75 99.41,78.84 100.06,78.93 100.70,79.02 101.35,79.11 102.00,79.21 102.65,79.31 103.29,79.41 103.94,79.51 104.59,79.62 105.24,79.73 105.89,79.84 106.53,79.95 107.18,80.07 107.83,80.18 108.48,80.30 109.12,80.42 109.77,80.55 110.42,80.67 111.07,80.80 111.72,80.93 112.36,81.07 113.01,81.20 113.66,81.34 114.31,81.48 114.95,81.62 115.60,81.77 116.25,81.92 116.90,82.06 117.55,82.22 118.19,82.37 118.84,82.53 119.49,82.68 120.14,82.85 120.78,83.01 121.43,83.17 122.08,83.34 122.73,83.51 123.38,83.68 124.02,83.86 124.67,84.03 125.32,84.21 125.97,84.39 126.62,84.58 127.26,84.76 127.91,84.95 128.56,85.14 129.21,85.34 129.85,85.53 130.50,85.73 131.15,85.93 131.80,86.13 132.45,86.33 133.09,86.54 133.74,86.75 134.39,86.96 135.04,87.17 135.68,87.39 136.33,87.61 136.98,87.83 137.63,88.05 138.28,88.28 138.92,88.50 139.57,88.73 140.22,88.97 140.87,89.20 141.51,89.44 142.16,89.67 142.81,89.92 143.46,90.16 144.11,90.40 144.75,90.65 145.40,90.90 146.05,91.16 146.70,91.41 147.34,91.67 147.99,91.93 148.64,92.19 149.29,92.45 149.94,92.72 150.58,92.99 151.23,93.26 151.88,93.53 152.53,93.81 153.18,94.09 153.82,94.37 154.47,94.65 155.12,94.93 155.77,95.22 156.41,95.51 157.06,95.80 157.71,96.09 158.36,96.39 159.01,96.68 159.65,96.98 160.30,97.29 160.95,97.59 161.60,97.90 162.24,98.21 162.89,98.52 163.54,98.83 164.19,99.15 164.84,99.46 165.48,99.78 166.13,100.11 166.78,100.43 167.43,100.76 168.07,101.09 168.72,101.42 169.37,101.75 170.02,102.09 170.67,102.42 171.31,102.76 171.96,103.11 172.61,103.45 173.26,103.80 173.90,104.15 174.55,104.50 175.20,104.85 175.85,105.21 176.50,105.56 177.14,105.92 177.79,106.29 178.44,106.65 179.09,107.02 179.73,107.39 180.38,107.76 181.03,108.13 181.68,108.51 182.33,108.88 182.97,109.26 183.62,109.65 184.27,110.03 184.92,110.42 185.57,110.81 186.21,111.20 186.86,111.59 187.51,111.99 188.16,112.39 188.80,112.79 189.45,113.19 190.10,113.60 190.75,114.01 191.40,114.42 192.04,114.84 192.69,115.27 193.34,115.69 193.99,116.12 194.63,116.56 195.28,116.99 195.93,117.43 196.58,117.88 197.23,118.32 197.87,118.77 198.52,119.22 199.17,119.68 199.82,120.13 200.46,120.59 201.11,121.05 201.76,121.52 202.41,121.98 203.06,122.45 203.70,122.93 204.35,123.41 205.00,123.89 205.65,124.38 206.29,124.87 206.94,125.36 207.59,125.86 208.24,126.37 208.89,126.87 209.53,127.38 210.18,127.90 210.83,128.42 211.48,128.94 212.12,129.46 212.77,129.99 213.42,130.52 214.07,131.05 214.72,131.59 215.36,132.13 216.01,132.68 216.66,133.23 217.31,133.79 217.96,134.36 218.60,134.93 219.25,135.51 219.90,136.09 220.55,136.67 221.19,137.27 221.84,137.86 222.49,138.46 223.14,139.07 223.79,139.68 224.43,140.30 225.08,140.92 225.73,141.54 226.38,142.17 227.02,142.80 227.67,143.44 228.32,144.08 228.97,144.74 229.62,145.41 230.26,146.10 230.91,146.79 231.56,147.49 232.21,148.19 232.85,148.90 233.50,149.61 234.15,150.32 234.80,151.04 235.45,151.77 236.09,152.51 236.74,153.25 237.39,154.00 238.04,154.74 238.68,155.47 239.33,156.20 239.98,156.91 240.63,157.61 241.28,158.30 241.92,158.98 242.57,159.65 243.22,160.32 243.87,160.98 244.51,161.64 245.16,162.29 245.81,162.94 246.46,163.58 247.11,164.21 247.75,164.84 248.40,165.47 249.05,166.09 249.70,166.70 250.35,167.31 250.99,167.92 251.64,168.53 252.29,169.13 252.94,169.73 253.58,170.32 254.23,170.91 254.88,171.50 255.53,172.09 256.18,172.68 256.82,173.26 257.47,173.84 258.12,174.42 258.77,175.00 259.41,175.58 260.06,176.15 260.71,176.73 261.36,177.30 262.01,177.87 262.65,178.44 263.30,179.01 263.95,179.58 264.60,180.15 265.24,180.72 265.89,181.29 266.54,181.85 267.19,182.42 267.84,182.98 268.48,183.55 269.13,184.11 269.78,184.67 270.43,185.23 271.07,185.79 271.72,186.35 272.37,186.91 273.02,187.47 273.67,188.02 274.31,188.58 274.96,189.14 275.61,189.69 276.26,190.25 276.90,190.80 277.55,191.36 278.20,191.91 278.85,192.46 279.50,193.02 280.14,193.57 280.79,194.13 281.44,194.68 282.09,195.23 282.74,195.79 283.38,196.34 284.03,196.89 284.68,197.44 285.33,197.99 285.97,198.55 286.62,199.10 287.27,199.65 287.92,200.19 288.57,200.74 289.21,201.29 289.86,201.84 290.51,202.38 291.16,202.92 291.80,203.47 292.45,204.01 293.10,204.55 293.75,205.09 294.40,205.63 295.04,206.17 295.69,206.71 296.34,207.25 296.99,207.79 297.63,208.32 298.28,208.86 298.93,209.40 299.58,209.93 300.23,210.47 300.87,211.00 301.52,211.53 302.17,212.06 302.82,212.59 303.46,213.12 304.11,213.65 304.76,214.18 305.41,214.71 306.06,215.23 306.70,215.76 307.35,216.28 308.00,216.81 308.65,217.33 309.29,217.86 309.94,218.38 310.59,218.90 311.24,219.42 311.89,219.94 312.53,220.47 313.18,220.99 313.83,221.51 314.48,222.02 315.12,222.54 315.77,223.06 316.42,223.58 317.07,224.09 317.72,224.61 318.36,225.13 319.01,225.64 319.66,226.16 320.31,226.67 320.96,227.19 321.60,227.70 322.25,228.21 322.90,228.73 323.55,229.24 324.19,229.75 324.84,230.26 325.49,230.77 326.14,231.29 326.79,231.80 327.43,232.31 328.08,232.82 328.73,233.33 329.38,233.84 330.02,234.35 330.67,234.86 331.32,235.37 331.97,235.88 332.62,236.38 333.26,236.89 333.91,237.40 334.56,237.91 335.21,238.42 335.85,238.93 336.50,239.43 337.15,239.94 337.80,240.45 338.45,240.96 339.09,241.46 339.74,241.97 340.39,242.48 341.04,242.98 341.68,243.49 342.33,244.00 342.98,244.50 343.63,245.01 344.28,245.51 344.92,246.02 345.57,246.53 346.22,247.03 346.87,247.54 347.51,248.04 348.16,248.55 348.81,249.05 349.46,249.56 350.11,250.06 350.75,250.57 351.40,251.07 352.05,251.57 352.70,252.08 353.35,252.58 353.99,253.09 354.64,253.59 355.29,254.09 355.94,254.60 356.58,255.10 357.23,255.60 357.88,256.11 358.53,256.61 359.18,257.11 359.82,257.62 360.47,258.12 361.12,258.62 361.77,259.13 362.41,259.63 363.06,260.13 363.71,260.63 364.36,261.14 365.01,261.64 365.65,262.14 366.30,262.64 366.95,263.15 367.60,263.65 368.24,264.15 368.89,264.65 369.54,265.15 370.19,265.66 370.84,266.16 371.48,266.66 372.13,267.16 372.78,267.66 373.43,268.17 374.07,268.67 374.72,269.17 375.37,269.67 376.02,270.17 376.67,270.67 377.31,271.18 377.96,271.68 378.61,272.18 379.26,272.68 379.91,273.18 380.55,273.68 381.20,274.18 381.85,274.68 382.50,275.19 383.14,275.69 383.79,276.19 384.44,276.69 385.09,277.19 385.74,277.69 386.38,278.19 387.03,278.69 387.68,279.19 388.33,279.69 388.97,280.19 389.62,280.69 390.27,281.20 390.92,281.70 391.57,282.20 392.21,282.70 392.86,283.20 393.51,283.70 394.16,284.20 394.80,284.70 395.45,285.20 396.10,285.70" fill="none" stroke="#0000ff" stroke-dasharray="10.15 3.75" stroke-width="1.8"/>
<polyline points="72.20,10.71 72.85,10.71 73.50,10.71 74.14,10.71 74.79,10.72 75.44,10.73 76.09,10.74 76.73,10.75 77.38,10.77 78.03,10.79 78.68,10.81 79.33,10.84 79.97,10.87 80.62,10.90 81.27,10.94 81.92,10.98 82.56,11.02 83.21,11.06 83.86,11.11 84.51,11.16 85.16,11.21 85.80,11.27 86.45,11.33 87.10,11.39 87.75,11.45 88.40,11.52 89.04,11.59 89.69,11.67 90.34,11.74 90.99,11.82 91.63,11.91 92.28,11.99 92.93,12.08 93.58,12.17 94.23,12.27 94.87,12.36 95.52,12.46 96.17,12.57 96.82,12.67 97.46,12.78 98.11,12.90 98.76,13.01 99.41,13.13 100.06,13.25 100.70,13.37 101.35,13.50 102.00,13.63 102.65,13.76 103.29,13.90 103.94,14.04 104.59,14.18 105.24,14.33 105.89,14.47 106.53,14.63 107.18,14.78 107.83,14.94 108.48,15.10 109.12,15.26 109.77,15.43 110.42,15.59 111.07,15.77 111.72,15.94 112.36,16.12 113.01,16.30 113.66,16.48 114.31,16.67 114.95,16.86 115.60,17.05 116.25,17.25 116.90,17.45 117.55,17.65 118.19,17.85 118.84,18.06 119.49,18.27 120.14,18.48 120.78,18.70 121.43,18.92 122.08,19.14 122.73,19.37 123.38,19.60 124.02,19.83 124.67,20.06 125.32,20.30 125.97,20.54 126.62,20.78 127.26,21.03 127.91,21.28 128.56,21.53 129.21,21.78 129.85,22.04 130.50,22.30 131.15,22.57 131.80,22.84 132.45,23.11 133.09,23.38 133.74,23.66 134.39,23.93 135.04,24.22 135.68,24.50 136.33,24.79 136.98,25.08 137.63,25.37 138.28,25.67 138.92,25.97 139.57,26.28 140.22,26.58 140.87,26.89 141.51,27.20 142.16,27.52 142.81,27.84 143.46,28.16 144.11,28.48 144.75,28.81 145.40,29.14 146.05,29.47 146.70,29.81 147.34,30.14 147.99,30.49 148.64,30.83 149.29,31.18 149.94,31.53 150.58,31.88 151.23,32.24 151.88,32.60 152.53,32.96 153.18,33.33 153.82,33.70 154.47,34.07 155.12,34.44 155.77,34.82 156.41,35.20 157.06,35.58 157.71,35.97 158.36,36.36 159.01,36.75 159.65,37.15 160.30,37.54 160.95,37.95 161.60,38.35 162.24,38.76 162.89,39.17 163.54,39.58 164.19,39.99 164.84,40.41 165.48,40.83 166.13,41.26 166.78,41.69 167.43,42.12 168.07,42.55 168.72,42.99 169.37,43.42 170.02,43.87 170.67,44.31 171.31,44.76 171.96,45.21 172.61,45.66 173.26,46.12 173.90,46.58 174.55,47.04 175.20,47.51 175.85,47.98 176.50,48.45 177.14,48.92 177.79,49.40 178.44,49.88 179.09,50.36 179.73,50.85 180.38,51.34 181.03,51.83 181.68,52.32 182.33,52.82 182.97,53.32 183.62,53.83 184.27,54.33 184.92,54.84 185.57,55.35 186.21,55.87 186.86,56.39 187.51,56.91 188.16,57.43 188.80,57.96 189.45,58.49 190.10,59.03 190.75,59.57 191.40,60.12 192.04,60.67 192.69,61.22 193.34,61.78 193.99,62.35 194.63,62.92 195.28,63.49 195.93,64.07 196.58,64.66 197.23,65.24 197.87,65.83 198.52,66.43 199.17,67.03 199.82,67.63 200.46,68.24 201.11,68.85 201.76,69.46 202.41,70.08 203.06,70.72 203.70,71.36 204.35,72.02 205.00,72.68 205.65,73.36 206.29,74.05 206.94,74.74 207.59,75.44 208.24,76.15 208.89,76.87 209.53,77.59 210.18,78.32 210.83,79.05 211.48,79.79 212.12,80.54 212.77,81.28 213.42,82.04 214.07,82.79 214.72,83.55 215.36,84.31 216.01,85.08 216.66,85.86 217.31,86.66 217.96,87.46 218.60,88.27 219.25,89.08 219.90,89.91 220.55,90.74 221.19,91.57 221.84,92.42 222.49,93.27 223.14,94.12 223.79,94.98 224.43,95.85 225.08,96.72 225.73,97.59 226.38,98.46 227.02,99.34 227.67,100.22 228.32,101.11 228.97,102.00 229.62,102.89 230.26,103.80 230.91,104.71 231.56,105.64 232.21,106.57 232.85,107.52 233.50,108.48 234.15,109.46 234.80,110.47 235.45,111.51 236.09,112.57 236.74,113.65 237.39,114.75 238.04,115.84 238.68,116.94 239.33,118.02 239.98,119.08 240.63,120.12 241.28,121.15 241.92,122.17 242.57,123.18 243.22,124.19 243.87,125.19 244.51,126.18 245.16,127.16 245.81,128.13 246.46,129.08 247.11,130.01 247.75,130.94 248.40,131.85 249.05,132.75 249.70,133.64 250.35,134.53 250.99,135.40 251.64,136.27 252.29,137.13 252.94,137.98 253.58,138.82 254.23,139.65 254.88,140.48 255.53,141.30 256.18,142.11 256.82,142.91 257.47,143.72 258.12,144.51 258.77,145.31 259.41,146.10 260.06,146.89 260.71,147.68 261.36,148.47 262.01,149.26 262.65,150.04 263.30,150.82 263.95,151.60 264.60,152.37 265.24,153.14 265.89,153.90 266.54,154.66 267.19,155.41 267.84,156.17 268.48,156.91 269.13,157.66 269.78,158.40 270.43,159.14 271.07,159.88 271.72,160.62 272.37,161.35 273.02,162.08 273.67,162.81 274.31,163.54 274.96,164.27 275.61,164.99 276.26,165.72 276.90,166.44 277.55,167.16 278.20,167.88 278.85,168.61 279.50,169.33 280.14,170.05 280.79,170.77 281.44,171.49 282.09,172.21 282.74,172.93 283.38,173.65 284.03,174.36 284.55,174.94" fill="none" stroke="#00ff00" stroke-dasharray="10.15 3.75" stroke-width="1.8"/>
<polyline points="285.75,176.26 285.97,176.51 286.62,177.22 287.27,177.93 287.92,178.63 288.57,179.34 289.21,180.04 289.86,180.74 290.51,181.44 291.16,182.13 291.80,182.82 292.45,183.51 293.10,184.19 293.75,184.87 294.40,185.55 295.04,186.23 295.69,186.91 296.34,187.59 296.99,188.26 297.63,188.93 298.28,189.60 298.93,190.28 299.58,190.94 300.23,191.61 300.87,192.28 301.52,192.95 302.17,193.61 302.82,194.28 303.46,194.94 304.11,195.60 304.76,196.27 305.41,196.93 306.06,197.59 306.70,198.25 307.35,198.91 308.00,199.57 308.65,200.23 309.29,200.88 309.94,201.54 310.59,202.19 311.24,202.85 311.89,203.50 312.53,204.16 313.18,204.81 313.83,205.46 314.48,206.12 315.12,206.77 315.77,207.42 316.42,208.07 317.07,208.72 317.72,209.38 318.36,210.03 319.01,210.68 319.66,211.33 320.31,211.98 320.96,212.63 321.60,213.28 322.25,213.93 322.90,214.58 323.55,215.23 324.19,215.88 324.84,216.53 325.49,217.18 326.14,217.83 326.79,218.47 327.43,219.12 328.08,219.77 328.73,220.41 329.38,221.06 330.02,221.70 330.67,222.34 331.32,222.99 331.97,223.63 332.62,224.27 333.26,224.91 333.91,225.55 334.56,226.19 335.21,226.84 335.85,227.48 336.50,228.12 337.15,228.76 337.80,229.39 338.45,230.03 339.09,230.67 339.74,231.31 340.39,231.95 341.04,232.59 341.68,233.22 342.33,233.86 342.98,234.50 343.63,235.13 344.28,235.77 344.92,236.40 345.57,237.04 346.22,237.67 346.87,238.31 347.51,238.94 348.16,239.57 348.81,240.20 349.46,240.84 350.11,241.47 350.75,242.10 351.40,242.73 352.05,243.36 352.70,243.99 353.35,244.62 353.99,245.25 354.64,245.88 355.29,246.50 355.94,247.13 356.58,247.76 357.23,248.38 357.88,249.01 358.53,249.64 359.18,250.26 359.82,250.89 360.47,251.51 361.12,252.14 361.77,252.76 362.41,253.39 363.06,254.01 363.71,254.64 364.36,255.26 365.01,255.89 365.65,256.51 366.30,257.14 366.95,257.76 367.60,258.38 368.24,259.01 368.89,259.63 369.54,260.26 370.19,260.88 370.84,261.50 371.48,262.12 372.13,262.75 372.78,263.37 373.43,263.99 374.07,264.61 374.72,265.24 375.37,265.86 376.02,266.48 376.67,267.10 377.31,267.72 377.96,268.34 378.61,268.97 379.26,269.59 379.91,270.21 380.55,270.83 381.20,271.45 381.85,272.07 382.50,272.69 383.14,273.31 383.79,273.93 384.44,274.55 385.09,275.17 385.74,275.79 386.38,276.41 387.03,277.03 387.68,277.65 388.33,278.27 388.97,278.89 389.62,279.51 390.27,280.13 390.92,280.75 391.57,281.37 392.21,281.99 392.86,282.60 393.51,283.22 394.16,283.84 394.80,284.46 395.45,285.08 396.10,285.70" fill="none" stroke="#00ff00" stroke-dasharray="10.15 3.75" stroke-width="1.8" stroke-dashoffset="4.85"/>
<line x1="85.16" x2="85.16" y1="285.70" y2="279.10" stroke="#000" stroke-width="1" stroke-opacity="0.7"/>
<line x1="85.16" x2="85.16" y1="8.00" y2="14.60" stroke="#000" stroke-width="1" stroke-opacity="0.7"/>
<line x1="98.11" x2="98.11" y1="285.70" y2="279.10" stroke="#000" stroke-width="1" stroke-opacity="0.7"/>
<line x1="98.11" x2="98.11" y1="8.00" y2="14.60" stroke="#000" stroke-width="1" stroke-opacity="0.7"/>
<line x1="111.07" x2="111.07" y1="285.70" y2="279.10" stroke="#000" stroke-width="1" stroke-opacity="0.7"/>
<line x1="111.07" x2="111.07" y1="8.00" y2="14.60" stroke="#000" stroke-width="1" stroke-opacity="0.7"/>
<line x1="124.02" x2="124.02" y1="285.70" y2="279.10" stroke="#000" stroke-width="1" stroke-opacity="0.7"/>
<line x1="124.02" x2="124.02" y1="8.00" y2="14.60" stroke="#000" stroke-width="1" stroke-opacity="0.7"/>
<line x1="136.98" x2="136.98" y1="285.70" y2="274.00" stroke="#000" stroke-width="1.3"/>
<line x1="136.98" x2="136.98" y1="8.00" y2="19.70" stroke="#000" stroke-width="1.3"/>
<line x1="149.94" x2="149.94" y1="285.70" y2="279.10" stroke="#000" stroke-width="1" stroke-opacity="0.7"/>
<line x1="149.94" x2="149.94" y1="8.00" y2="14.60" stroke="#000" stroke-width="1" stroke-opacity="0.7"/>
<line x1="162.89" x2="162.89" y1="285.70" y2="279.10" stroke="#000" stroke-width="1" stroke-opacity="0.7"/>
<line x1="162.89" x2="162.89" y1="8.00" y2="14.60" stroke="#000" stroke-width="1" stroke-opacity="0.7"/>
<line x1="175.85" x2="175.85" y1="285.70" y2="279.10" stroke="#000" stroke-width="1" stroke-opacity="0.7"/>
<line x1="175.85" x2="175.85" y1="8.00" y2="14.60" stroke="#000" stroke-width="1" stroke-opacity="0.7"/>
<line x1="188.80" x2="188.80" y1="285.70" y2="279.10" stroke="#000" stroke-width="1" stroke-opacity="0.7"/>
<line x1="188.80" x2="188.80" y1="8.00" y2="14.60" stroke="#000" stroke-width="1" stroke-opacity="0.7"/>
<line x1="201.76" x2="201.76" y1="285.70" y2="274.00" stroke="#000" stroke-width="1.3"/>
<line x1="201.76" x2="201.76" y1="8.00" y2="19.70" stroke="#000" stroke-width="1.3"/>
<line x1="214.72" x2="214.72" y1="285.70" y2="279.10" stroke="#000" stroke-width="1" stroke-opacity="0.7"/>
<line x1="214.72" x2="214.72" y1="8.00" y2="14.60" stroke="#000" stroke-width="1" stroke-opacity="0.7"/>
<line x1="227.67" x2="227.67" y1="285.70" y2="279.10" stroke="#000" stroke-width="1" stroke-opacity="0.7"/>
<line x1="227.67" x2="227.67" y1="8.00" y2="14.60" stroke="#000" stroke-width="1" stroke-opacity="0.7"/>
<line x1="240.63" x2="240.63" y1="285.70" y2="279.10" stroke="#000" stroke-width="1" stroke-opacity="0.7"/>
<line x1="240.63" x2="240.63" y1="8.00" y2="14.60" stroke="#000" stroke-width="1" stroke-opacity="0.7"/>
<line x1="253.58" x2="253.58" y1="285.70" y2="279.10" stroke="#000" stroke-width="1" stroke-opacity="0.7"/>
<line x1="253.58" x2="253.58" y1="8.00" y2="14.60" stroke="#000" stroke-width="1" stroke-opacity="0.7"/>
<line x1="266.54" x2="266.54" y1="285.70" y2="274.00" stroke="#000" stroke-width="1.3"/>
<line x1="266.54" x2="266.54" y1="8.00" y2="19.70" stroke="#000" stroke-width="1.3"/>
<line x1="279.50" x2="279.50" y1="285.70" y2="279.10" stroke="#000" stroke-width="1" stroke-opacity="0.7"/>
<line x1="279.50" x2="279.50" y1="8.00" y2="14.60" stroke="#000" stroke-width="1" stroke-opacity="0.7"/>
<line x1="292.45" x2="292.45" y1="285.70" y2="279.10" stroke="#000" stroke-width="1" stroke-opacity="0.7"/>
<line x1="292.45" x2="292.45" y1="8.00" y2="14.60" stroke="#000" stroke-width="1" stroke-opacity="0.7"/>
<line x1="305.41" x2="305.41" y1="285.70" y2="279.10" stroke="#000" stroke-width="1" stroke-opacity="0.7"/>
<line x1="305.41" x2="305.41" y1="8.00" y2="14.60" stroke="#000" stroke-width="1" stroke-opacity="0.7"/>
<line x1="318.36" x2="318.36" y1="285.70" y2="279.10" stroke="#000" stroke-width="1" stroke-opacity="0.7"/>
<line x1="318.36" x2="318.36" y1="8.00" y2="14.60" stroke="#000" stroke-width="1" stroke-opacity="0.7"/>
<line x1="331.32" x2="331.32" y1="285.70" y2="274.00" stroke="#000" stroke-width="1.3"/>
<line x1="331.32" x2="331.32" y1="8.00" y2="19.70" stroke="#000" stroke-width="1.3"/>
<line x1="344.28" x2="344.28" y1="285.70" y2="279.10" stroke="#000" stroke-width="1" stroke-opacity="0.7"/>
<line x1="344.28" x2="344.28" y1="8.00" y2="14.60" stroke="#000" stroke-width="1" stroke-opacity="0.7"/>
<line x1="357.23" x2="357.23" y1="285.70" y2="279.10" stroke="#000" stroke-width="1" stroke-opacity="0.7"/>
<line x1="357.23" x2="357.23" y1="8.00" y2="14.60" stroke="#000" stroke-width="1" stroke-opacity="0.7"/>
<line x1="370.19" x2="370.19" y1="285.70" y2="279.10" stroke="#000" stroke-width="1" stroke-opacity="0.7"/>
<line x1="370.19" x2="370.19" y1="8.00" y2="14.60" stroke="#000" stroke-width="1" stroke-opacity="0.7"/>
<line x1="383.14" x2="383.14" y1="285.70" y2="279.10" stroke="#000" stroke-width="1" stroke-opacity="0.7"/>
<line x1="383.14" x2="383.14" y1="8.00" y2="14.60" stroke="#000" stroke-width="1" stroke-opacity="0.7"/>
<line x1="72.20" x2="76.90" y1="276.44" y2="276.44" stroke="#000" stroke-width="0.95"/>
<line x1="396.10" x2="391.40" y1="276.44" y2="276.44" stroke="#000" stroke-width="0.95"/>
<line x1="72.20" x2="76.90" y1="267.19" y2="267.19" stroke="#000" stroke-width="0.95"/>
<line x1="396.10" x2="391.40" y1="267.19" y2="267.19" stroke="#000" stroke-width="0.95"/>
<line x1="72.20" x2="76.90" y1="257.93" y2="257.93" stroke="#000" stroke-width="0.95"/>
<line x1="396.10" x2="391.40" y1="257.93" y2="257.93" stroke="#000" stroke-width="0.95"/>
<line x1="72.20" x2="76.90" y1="248.67" y2="248.67" stroke="#000" stroke-width="0.95"/>
<line x1="396.10" x2="391.40" y1="248.67" y2="248.67" stroke="#000" stroke-width="0.95"/>
<line x1="72.20" x2="81.40" y1="239.42" y2="239.42" stroke="#000" stroke-width="1.2"/>
<line x1="396.10" x2="386.90" y1="239.42" y2="239.42" stroke="#000" stroke-width="1.2"/>
<line x1="72.20" x2="76.90" y1="230.16" y2="230.16" stroke="#000" stroke-width="0.95"/>
<line x1="396.10" x2="391.40" y1="230.16" y2="230.16" stroke="#000" stroke-width="0.95"/>
<line x1="72.20" x2="76.90" y1="220.90" y2="220.90" stroke="#000" stroke-width="0.95"/>
<line x1="396.10" x2="391.40" y1="220.90" y2="220.90" stroke="#000" stroke-width="0.95"/>
<line x1="72.20" x2="76.90" y1="211.65" y2="211.65" stroke="#000" stroke-width="0.95"/>
<line x1="396.10" x2="391.40" y1="211.65" y2="211.65" stroke="#000" stroke-width="0.95"/>
<line x1="72.20" x2="76.90" y1="202.39" y2="202.39" stroke="#000" stroke-width="0.95"/>
<line x1="396.10" x2="391.40" y1="202.39" y2="202.39" stroke="#000" stroke-width="0.95"/>
<line x1="72.20" x2="81.40" y1="193.13" y2="193.13" stroke="#000" stroke-width="1.2"/>
<line x1="396.10" x2="386.90" y1="193.13" y2="193.13" stroke="#000" stroke-width="1.2"/>
<line x1="72.20" x2="76.90" y1="183.88" y2="183.88" stroke="#000" stroke-width="0.95"/>
<line x1="396.10" x2="391.40" y1="183.88" y2="183.88" stroke="#000" stroke-width="0.95"/>
<line x1="72.20" x2="76.90" y1="174.62" y2="174.62" stroke="#000" stroke-width="0.95"/>
<line x1="396.10" x2="391.40" y1="174.62" y2="174.62" stroke="#000" stroke-width="0.95"/>
<line x1="72.20" x2="76.90" y1="165.36" y2="165.36" stroke="#000" stroke-width="0.95"/>
<line x1="396.10" x2="391.40" y1="165.36" y2="165.36" stroke="#000" stroke-width="0.95"/>
<line x1="72.20" x2="76.90" y1="156.11" y2="156.11" stroke="#000" stroke-width="0.95"/>
<line x1="396.10" x2="391.40" y1="156.11" y2="156.11" stroke="#000" stroke-width="0.95"/>
<line x1="72.20" x2="81.40" y1="146.85" y2="146.85" stroke="#000" stroke-width="1.2"/>
<line x1="396.10" x2="391.50" y1="146.85" y2="146.85" stroke="#000" stroke-width="1.2"/>
<line x1="72.20" x2="76.90" y1="137.59" y2="137.59" stroke="#000" stroke-width="0.95"/>
<line x1="396.10" x2="391.40" y1="137.59" y2="137.59" stroke="#000" stroke-width="0.95"/>
<line x1="72.20" x2="76.90" y1="128.34" y2="128.34" stroke="#000" stroke-width="0.95"/>
<line x1="396.10" x2="391.40" y1="128.34" y2="128.34" stroke="#000" stroke-width="0.95"/>
<line x1="72.20" x2="76.90" y1="119.08" y2="119.08" stroke="#000" stroke-width="0.95"/>
<line x1="396.10" x2="391.40" y1="119.08" y2="119.08" stroke="#000" stroke-width="0.95"/>
<line x1="72.20" x2="76.90" y1="109.82" y2="109.82" stroke="#000" stroke-width="0.95"/>
<line x1="396.10" x2="391.40" y1="109.82" y2="109.82" stroke="#000" stroke-width="0.95"/>
<line x1="72.20" x2="81.40" y1="100.57" y2="100.57" stroke="#000" stroke-width="1.2"/>
<line x1="396.10" x2="391.50" y1="100.57" y2="100.57" stroke="#000" stroke-width="1.2"/>
<line x1="72.20" x2="76.90" y1="91.31" y2="91.31" stroke="#000" stroke-width="0.95"/>
<line x1="396.10" x2="391.40" y1="91.31" y2="91.31" stroke="#000" stroke-width="0.95"/>
<line x1="72.20" x2="76.90" y1="82.05" y2="82.05" stroke="#000" stroke-width="0.95"/>
<line x1="396.10" x2="391.40" y1="82.05" y2="82.05" stroke="#000" stroke-width="0.95"/>
<line x1="72.20" x2="76.90" y1="72.80" y2="72.80" stroke="#000" stroke-width="0.95"/>
<line x1="396.10" x2="391.40" y1="72.80" y2="72.80" stroke="#000" stroke-width="0.95"/>
<line x1="72.20" x2="76.90" y1="63.54" y2="63.54" stroke="#000" stroke-width="0.95"/>
<line x1="396.10" x2="391.40" y1="63.54" y2="63.54" stroke="#000" stroke-width="0.95"/>
<line x1="72.20" x2="81.40" y1="54.28" y2="54.28" stroke="#000" stroke-width="1.2"/>
<line x1="396.10" x2="391.50" y1="54.28" y2="54.28" stroke="#000" stroke-width="1.2"/>
<line x1="72.20" x2="76.90" y1="45.03" y2="45.03" stroke="#000" stroke-width="0.95"/>
<line x1="396.10" x2="391.40" y1="45.03" y2="45.03" stroke="#000" stroke-width="0.95"/>
<line x1="72.20" x2="76.90" y1="35.77" y2="35.77" stroke="#000" stroke-width="0.95"/>
<line x1="396.10" x2="391.40" y1="35.77" y2="35.77" stroke="#000" stroke-width="0.95"/>
<line x1="72.20" x2="76.90" y1="26.51" y2="26.51" stroke="#000" stroke-width="0.95"/>
<line x1="396.10" x2="391.40" y1="26.51" y2="26.51" stroke="#000" stroke-width="0.95"/>
<line x1="72.20" x2="76.90" y1="17.26" y2="17.26" stroke="#000" stroke-width="0.95"/>
<line x1="396.10" x2="391.40" y1="17.26" y2="17.26" stroke="#000" stroke-width="0.95"/>
<rect x="72.2" y="8.0" width="323.90" height="277.70" fill="none" stroke="#000" stroke-width="1.6"/>
<text x="72.50" y="302.3" text-anchor="middle" font-size="16.5">0</text>
<text x="137.28" y="302.3" text-anchor="middle" font-size="16.5">0.05</text>
<text x="202.06" y="302.3" text-anchor="middle" font-size="16.5">0.1</text>
<text x="266.84" y="302.3" text-anchor="middle" font-size="16.5">0.15</text>
<text x="331.62" y="302.3" text-anchor="middle" font-size="16.5">0.2</text>
<text x="396.40" y="302.3" text-anchor="middle" font-size="16.5">0.25</text>
<text x="68.2" y="291.30" text-anchor="end" font-size="16.5">0</text>
<text x="68.2" y="245.02" text-anchor="end" font-size="16.5">0.01</text>
<text x="68.2" y="198.73" text-anchor="end" font-size="16.5">0.02</text>
<text x="68.2" y="152.45" text-anchor="end" font-size="16.5">0.03</text>
<text x="68.2" y="106.17" text-anchor="end" font-size="16.5">0.04</text>
<text x="68.2" y="59.88" text-anchor="end" font-size="16.5">0.05</text>
<text x="68.2" y="13.60" text-anchor="end" font-size="16.5">0.06</text>
<line x1="290" x2="308.75" y1="35.80" y2="35.80" stroke="#000000" stroke-width="1.6"/>
<text x="318.1" y="39.50" font-size="13">diffusion</text>
<line x1="290" x2="308.75" y1="51.80" y2="51.80" stroke="#ff0000" stroke-width="1.6"/>
<text x="318.1" y="54.30" font-size="13">L/l<tspan font-size="9.4" dy="4.7" dx="-0.6">min</tspan><tspan dy="-4.7"> = 4000</tspan></text>
<line x1="290" x2="308.75" y1="70.50" y2="70.50" stroke="#0000ff" stroke-width="1.6"/>
<text x="318.1" y="73.00" font-size="13">L/l<tspan font-size="9.4" dy="4.7" dx="-0.6">min</tspan><tspan dy="-4.7"> = 400</tspan></text>
<line x1="290" x2="308.75" y1="89.20" y2="89.20" stroke="#00ff00" stroke-width="1.6"/>
<text x="318.1" y="91.70" font-size="13">L/l<tspan font-size="9.4" dy="4.7" dx="-0.6">min</tspan><tspan dy="-4.7"> = 100</tspan></text>
<line x1="290" x2="308.75" y1="107.90" y2="107.90" stroke="#000000" stroke-width="1.6" stroke-dasharray="10 4.5"/>
<text x="318.1" y="110.40" font-size="13">L/l<tspan font-size="9.4" dy="4.7" dx="-0.6">min</tspan><tspan dy="-4.7"> = 50</tspan></text>
<line x1="290" x2="308.75" y1="126.60" y2="126.60" stroke="#ff0000" stroke-width="1.6" stroke-dasharray="10 4.5"/>
<text x="318.1" y="129.10" font-size="13">L/l<tspan font-size="9.4" dy="4.7" dx="-0.6">min</tspan><tspan dy="-4.7"> = 25</tspan></text>
<line x1="290" x2="308.75" y1="145.30" y2="145.30" stroke="#0000ff" stroke-width="1.6" stroke-dasharray="10 4.5"/>
<text x="318.1" y="147.80" font-size="13">L/l<tspan font-size="9.4" dy="4.7" dx="-0.6">min</tspan><tspan dy="-4.7"> = 16</tspan></text>
<line x1="290" x2="308.75" y1="164.00" y2="164.00" stroke="#00ff00" stroke-width="1.6" stroke-dasharray="10 4.5"/>
<text x="318.1" y="166.50" font-size="13">L/l<tspan font-size="9.4" dy="4.7" dx="-0.6">min</tspan><tspan dy="-4.7"> = 8</tspan></text>
<text x="86.3" y="214.8" font-size="16.05">High Temperature</text>
<text><tspan x="90.9" y="233.8" font-size="17.4">&lt;</tspan><tspan x="101" y="234.2" font-size="18.8">ħ</tspan><tspan x="111.5" y="234.2" font-size="18.8">ω</tspan><tspan x="125" y="234.2" font-size="18.8">|</tspan><tspan x="128.5" y="234.2" font-size="18.8">S</tspan><tspan x="139.5" y="242.2" font-size="13">D</tspan><tspan x="149.5" y="234.2" font-size="18.8">|</tspan><tspan x="153.5" y="234.2" font-size="18.8">Φ</tspan><tspan x="168.9" y="233.8" font-size="17.4">&gt;</tspan><tspan x="178.5" y="234.2" font-size="18.8">=</tspan><tspan x="190" y="234.2" font-size="18.8">0</tspan></text>
<text x="101.1" y="253" font-size="15.7">Debye, RTA</text>
<text x="108.5" y="268.25" font-size="16.1">from Θ or κ</text>
<g transform="translate(27.3,237.4) rotate(-90)"><text><tspan x="0" y="0" font-size="19.7">(</tspan><tspan x="6.5" y="0" font-size="19.7">C</tspan><tspan x="19.6" y="0" font-size="18.4">Δ</tspan><tspan x="31" y="0" font-size="19.7">T</tspan><tspan x="44.5" y="7.4" font-size="13.2">B</tspan><tspan x="52.6" y="0" font-size="19.7">/</tspan><tspan x="57.6" y="0" font-size="19.7">P</tspan><tspan x="68.9" y="7.4" font-size="13.2">0</tspan><tspan x="76.4" y="0" font-size="19.7">τ</tspan><tspan x="84.5" y="7.4" font-size="13.2">min</tspan><tspan x="105.75" y="0" font-size="19.7">)</tspan><tspan x="116.5" y="0" font-size="19.7">(</tspan><tspan x="123" y="0" font-size="19.7">l</tspan><tspan x="129.2" y="7.4" font-size="13.2">min</tspan><tspan x="150" y="0" font-size="19.7">/</tspan><tspan x="155.1" y="0" font-size="19.7">L</tspan><tspan x="169.2" y="0" font-size="19.7">)</tspan><tspan x="175.2" y="-12.2" font-size="13.2">2</tspan></text></g>
<text x="234.6" y="319.9" text-anchor="middle" font-size="19.2">x/L</text>
</svg>
</body></html>
